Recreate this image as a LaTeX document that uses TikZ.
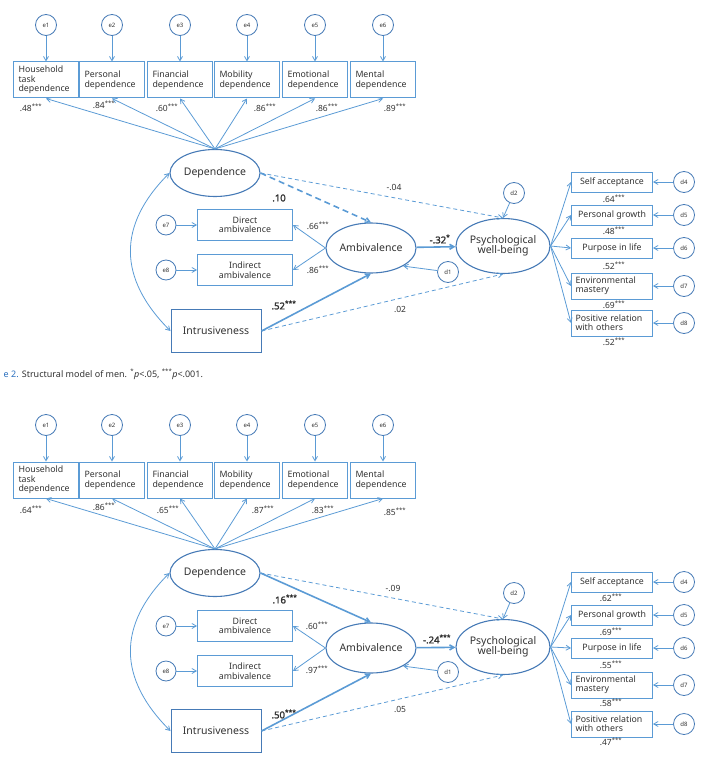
\documentclass[tikz,border=0pt]{standalone}
\usepackage{fontspec}
\setmainfont{Noto Sans}[AutoFakeBold=2]
\usetikzlibrary{arrows.meta,shapes.geometric}
\definecolor{semblue}{RGB}{91,155,213}
\definecolor{semdark}{RGB}{70,122,182}
\definecolor{semtext}{RGB}{50,50,50}
\definecolor{capblue}{RGB}{40,110,190}
\begin{document}
\begin{tikzpicture}[x=1pt, y=-1pt, semblue, text=semtext, line width=0.8pt,
  >={Straight Barb[angle=60:5pt]},
  latent/.style={draw=semdark, line width=1.1pt, ellipse, inner sep=0pt, minimum width=90pt, minimum height=47pt, align=center, font=\fontsize{10.5}{11.5}\selectfont},
  obs/.style={draw=semblue, line width=1pt, inner sep=3pt, font=\fontsize{8.8}{9.5}\selectfont},
  indic/.style={obs, text width=55pt, inner xsep=5pt, minimum height=36pt, align=left},
  midbox/.style={obs, minimum width=95pt, minimum height=31pt, align=center},
  rbox/.style={obs, minimum width=81pt, minimum height=20pt},
  rboxx/.style={obs, text width=73pt, inner xsep=4pt, minimum height=26pt, align=left, font=\fontsize{8.8}{9}\selectfont},
  err/.style={draw=semdark, circle, inner sep=0pt, minimum size=21pt, font=\fontsize{6}{7}\selectfont},
  coef/.style={font=\fontsize{8.5}{9}\selectfont},
  bcoef/.style={font=\fontsize{9.5}{10}\selectfont\bfseries},
  load/.style={->},
  sig/.style={->, line width=1.6pt},
  nsig/.style={->, dash pattern=on 4pt off 3pt},
  nsigb/.style={->, line width=1.6pt, dash pattern=on 6pt off 4pt}]
  \useasboundingbox (0,0) rectangle (701,765);

  % men
  \node[err] (me1) at (46,25) {e1};   \node[indic] (mi1) at (46,80) {Household\\task\\dependence};
  \node[err] (me2) at (112,25) {e2};  \node[indic] (mi2) at (112,80) {Personal\\dependence};
  \node[err] (me3) at (180,25) {e3};  \node[indic] (mi3) at (180,80) {Financial\\dependence};
  \node[err] (me4) at (247,25) {e4};  \node[indic] (mi4) at (247,80) {Mobility\\dependence};
  \node[err] (me5) at (315,25) {e5};  \node[indic] (mi5) at (315,80) {Emotional\\dependence};
  \node[err] (me6) at (383,25) {e6};  \node[indic] (mi6) at (383,80) {Mental\\dependence};
  \node[coef] (ml1) at (31,108) {.48\textsuperscript{***}};  \node[coef] (ml2) at (104,105) {.84\textsuperscript{***}};
  \node[coef] (ml3) at (167,108) {.60\textsuperscript{***}}; \node[coef] (ml4) at (265,108) {.86\textsuperscript{***}};
  \node[coef] (ml5) at (327,108) {.86\textsuperscript{***}}; \node[coef] (ml6) at (395,108) {.89\textsuperscript{***}};

  \node[latent] (mdep) at (215,173) {Dependence};
  \node[midbox] (mdir) at (245,225) {Direct\\ambivalence};
  \node[midbox] (mind) at (245,270) {Indirect\\ambivalence};
  \node[err, minimum size=20pt] (me7) at (166,225) {e7};
  \node[err, minimum size=20pt] (me8) at (166,270) {e8};
  \node[obs, draw=semdark, minimum width=90pt, minimum height=43pt, font=\fontsize{10.5}{12}\selectfont] (mintr) at (216,331) {Intrusiveness};
  \node[latent, minimum height=50pt] (mamb) at (371,248) {Ambivalence};
  \node[latent, minimum width=89pt, minimum height=55pt] (mpwb) at (503,246) {Psychological\\[-2pt]well-being};
  \node[err] (md1) at (448,272) {d1};
  \node[err] (md2) at (514,193) {d2};

  \node[rbox] (ms4) at (612,182) {Self acceptance};         \node[err] (md4) at (684,182) {d4};
  \node[rbox] (ms5) at (612,215) {Personal growth};         \node[err] (md5) at (684,215) {d5};
  \node[rbox] (ms6) at (612,248) {Purpose in life};         \node[err] (md6) at (684,248) {d6};
  \node[rboxx] (ms7) at (612,286) {Environmental\\mastery}; \node[err] (md7) at (684,286) {d7};
  \node[rboxx] (ms8) at (612,323) {Positive relation\\with others}; \node[err] (md8) at (684,323) {d8};
  \node[coef] (mr4) at (614,199) {.64\textsuperscript{***}}; \node[coef] (mr5) at (614,231) {.48\textsuperscript{***}};
  \node[coef] (mr6) at (614,266) {.52\textsuperscript{***}}; \node[coef] (mr7) at (614,305) {.69\textsuperscript{***}};
  \node[coef] (mr8) at (614,342) {.52\textsuperscript{***}};

  \foreach \k in {1,...,6} {\draw[load] (me\k) -- (mi\k); \draw[load] (mdep.north) -- (mi\k.south);}
  \foreach \k in {4,...,8} {\draw[load] (md\k) -- (ms\k); \draw[load] (mpwb.east) -- (ms\k.west);}
  \draw[load] (me7) -- (mdir);  \draw[load] (me8) -- (mind);
  \draw[load] (mamb.west) -- (mdir.east);  \draw[load] (mamb.west) -- (mind.east);
  \draw[load] (md1) -- (mamb.south east);  \draw[load] (md2) -- (mpwb.north);
  \draw[nsigb] (mdep.east) -- (mamb.north);  \draw[nsig] (mdep.east) -- (mpwb.north);
  \draw[sig] (mintr.east) -- (mamb.south);   \draw[nsig] (mintr.east) -- (mpwb.south);
  \draw[sig] (mamb) -- (mpwb);
  \draw[<->] (mdep.west) to[out=225, in=135, looseness=1.2] (mintr.west);
  \node[bcoef] (mc1) at (279,198) {.10};  \node[coef] (mc2) at (394,187) {-.04};
  \node[coef] (mc3) at (318,226) {.66\textsuperscript{***}};  \node[coef] (mc4) at (318,270) {.86\textsuperscript{***}};
  \node[bcoef] (mc5) at (440,239) {-.32\textsuperscript{*}};  \node[bcoef] (mc6) at (284,305) {.52\textsuperscript{***}};
  \node[coef] (mc7) at (400,309) {.02};

  \node[anchor=west, font=\fontsize{9}{10}\selectfont] (mcap) at (0,374)
    {{\color{capblue}e 2.} Structural model of men. \textsuperscript{*}\textit{p}<.05, \textsuperscript{***}\textit{p}<.001.};

  % women
  \begin{scope}[yshift=-400pt]
  \node[err] (we1) at (46,25) {e1};   \node[indic] (wi1) at (46,80) {Household\\task\\dependence};
  \node[err] (we2) at (112,25) {e2};  \node[indic] (wi2) at (112,80) {Personal\\dependence};
  \node[err] (we3) at (180,25) {e3};  \node[indic] (wi3) at (180,80) {Financial\\dependence};
  \node[err] (we4) at (247,25) {e4};  \node[indic] (wi4) at (247,80) {Mobility\\dependence};
  \node[err] (we5) at (315,25) {e5};  \node[indic] (wi5) at (315,80) {Emotional\\dependence};
  \node[err] (we6) at (383,25) {e6};  \node[indic] (wi6) at (383,80) {Mental\\dependence};
  \node[coef] (wl1) at (31,110) {.64\textsuperscript{***}};  \node[coef] (wl2) at (104,107) {.86\textsuperscript{***}};
  \node[coef] (wl3) at (168,110) {.65\textsuperscript{***}}; \node[coef] (wl4) at (263,110) {.87\textsuperscript{***}};
  \node[coef] (wl5) at (323,110) {.83\textsuperscript{***}}; \node[coef] (wl6) at (395,112) {.85\textsuperscript{***}};

  \node[latent] (wdep) at (215,173) {Dependence};
  \node[midbox] (wdir) at (245,226) {Direct\\ambivalence};
  \node[midbox] (wind) at (245,271) {Indirect\\ambivalence};
  \node[err, minimum size=20pt] (we7) at (166,226) {e7};
  \node[err, minimum size=20pt] (we8) at (166,271) {e8};
  \node[obs, draw=semdark, minimum width=90pt, minimum height=43pt, font=\fontsize{10.5}{12}\selectfont] (wintr) at (216,331) {Intrusiveness};
  \node[latent, minimum height=50pt] (wamb) at (371,248) {Ambivalence};
  \node[latent, minimum width=89pt, minimum height=55pt] (wpwb) at (503,247) {Psychological\\[-2pt]well-being};
  \node[err] (wd1) at (448,272) {d1};
  \node[err] (wd2) at (514,193) {d2};

  \node[rbox] (ws4) at (612,182) {Self acceptance};         \node[err] (wd4) at (684,182) {d4};
  \node[rbox] (ws5) at (612,215) {Personal growth};         \node[err] (wd5) at (684,215) {d5};
  \node[rbox] (ws6) at (612,248) {Purpose in life};         \node[err] (wd6) at (684,248) {d6};
  \node[rboxx] (ws7) at (612,285) {Environmental\\mastery}; \node[err] (wd7) at (684,285) {d7};
  \node[rboxx] (ws8) at (612,324) {Positive relation\\with others}; \node[err] (wd8) at (684,324) {d8};
  \node[coef] (wr4) at (611,198) {.62\textsuperscript{***}}; \node[coef] (wr5) at (611,232) {.69\textsuperscript{***}};
  \node[coef] (wr6) at (611,265) {.55\textsuperscript{***}}; \node[coef] (wr7) at (611,303) {.58\textsuperscript{***}};
  \node[coef] (wr8) at (611,342) {.47\textsuperscript{***}};

  \foreach \k in {1,...,6} {\draw[load] (we\k) -- (wi\k); \draw[load] (wdep.north) -- (wi\k.south);}
  \foreach \k in {4,...,8} {\draw[load] (wd\k) -- (ws\k); \draw[load] (wpwb.east) -- (ws\k.west);}
  \draw[load] (we7) -- (wdir);  \draw[load] (we8) -- (wind);
  \draw[load] (wamb.west) -- (wdir.east);  \draw[load] (wamb.west) -- (wind.east);
  \draw[load] (wd1) -- (wamb.south east);  \draw[load] (wd2) -- (wpwb.north);
  \draw[sig] (wdep.east) -- (wamb.north);   \draw[nsig] (wdep.east) -- (wpwb.north);
  \draw[sig] (wintr.east) -- (wamb.south);  \draw[nsig] (wintr.east) -- (wpwb.south);
  \draw[sig] (wamb) -- (wpwb);
  \draw[<->] (wdep.west) to[out=225, in=135, looseness=1.2] (wintr.west);
  \node[bcoef] (wc1) at (285,199) {.16\textsuperscript{***}};  \node[coef] (wc2) at (393,188) {-.09};
  \node[coef] (wc3) at (317,226) {.60\textsuperscript{***}};  \node[coef] (wc4) at (317,270) {.97\textsuperscript{***}};
  \node[bcoef] (wc5) at (437,239) {-.24\textsuperscript{***}}; \node[bcoef] (wc6) at (284,314) {.50\textsuperscript{***}};
  \node[coef] (wc7) at (400,309) {.05};
  \end{scope}
\end{tikzpicture}
\end{document}
